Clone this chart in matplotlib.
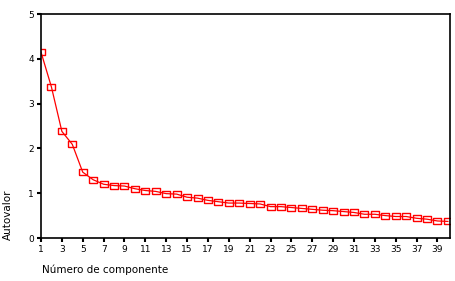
import matplotlib
matplotlib.use("Agg")
import matplotlib.pyplot as plt
import numpy as np

# eigenvalues per component (scree plot)
componentes = np.arange(1, 41)
autovalores = [4.15, 3.37, 2.38, 2.09, 1.47, 1.30, 1.20, 1.17, 1.16, 1.10,
               1.06, 1.04, 0.99, 0.98, 0.91, 0.89, 0.84, 0.81, 0.78, 0.78,
               0.77, 0.76, 0.70, 0.70, 0.68, 0.66, 0.64, 0.62, 0.61, 0.59,
               0.57, 0.53, 0.53, 0.50, 0.48, 0.48, 0.44, 0.42, 0.38, 0.37]
x_ticks = list(range(1, 40, 2))
y_ticks = [0, 1, 2, 3, 4, 5]

plt.rcParams['font.family'] = 'DejaVu Sans'

# wide, flat square marker like the original SPSS output
rect = [(-1, -0.72), (1, -0.72), (1, 0.72), (-1, 0.72), (-1, -0.72)]

fig = plt.figure(figsize=(4.56, 2.81), dpi=100)
ax = fig.add_axes([41 / 456, 1 - 238 / 281, 409 / 456, 224 / 281])

ax.plot(componentes, autovalores, color='red', lw=0.9,
        marker=rect, ms=5.2, mfc='none', mec='red', mew=1.0)

ax.set_xlim(1, 40.2)
ax.set_ylim(0, 5)
ax.set_xticks(x_ticks)
ax.set_yticks(y_ticks)
ax.tick_params(labelsize=6.5, length=3, width=1.5, direction='out', pad=2)

for s in ax.spines.values():
    s.set_linewidth(1.2)

fig.text(42 / 456, 1 - 270 / 281, "Número de componente", fontsize=7.5,
         ha='left', va='center')
fig.text(8 / 456, 1 - 215 / 281, "Autovalor", fontsize=7.5, rotation=90,
         ha='center', va='center')

fig.savefig("out.png", dpi=100)
